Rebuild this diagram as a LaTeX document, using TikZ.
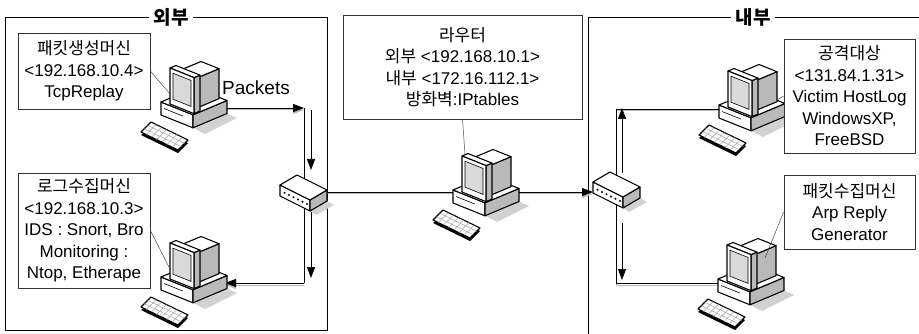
\documentclass[tikz,border=0pt]{standalone}
\usepackage{fontspec}
\setmainfont{Liberation Sans}
\newfontfamily\krfont{Noto Sans CJK KR}
\newcommand{\krtext}[1]{{\krfont #1}}
\usetikzlibrary{arrows.meta}

\tikzset{
  face/.style={fill=white, draw=black, line width=1.1pt, line join=round},
  side/.style={fill=gray!55, draw=black, line width=1.1pt, line join=round},
  keys/.style={draw=gray!70, line width=0.5pt},
  % desktop computer: origin at the front-left top corner of the case
  pics/computer/.style={code={
    % drop shadow
    \fill[gray!35] (32,25.8) -- (66,11.5) -- (76,16) -- (44,32) -- cycle;
    % case
    \draw[face] (0,0) -- (32,12.8) -- (32,25.8) -- (0,13) -- cycle;
    \draw[side] (32,12.8) -- (66,-1.5) -- (66,11.5) -- (32,25.8) -- cycle;
    \draw[face] (0,0) -- (32,12.8) -- (66,-1.5) -- (34,-14.3) -- cycle;
    \draw[line width=0.6pt] (3,6.5) -- (22,14.1);
    % CRT housing
    \draw[side] (36,-24.1) -- (58,-33.3) -- (58,-3.3) -- (36,5.9) -- cycle;
    \draw[face] (18,-31.3) -- (36,-24.1) -- (58,-33.3) -- (40,-40.5) -- cycle;
    % bezel
    \draw[side] (33,11.6) -- (39,9.1) -- (39,-26.9) -- (33,-24.4) -- cycle;
    \draw[face] (9,-34) -- (33,-24.4) -- (39,-26.9) -- (15,-36.5) -- cycle;
    \draw[face] (9,2) -- (33,11.6) -- (33,-24.4) -- (9,-34) -- cycle;
    \draw[fill=gray!30, draw=black, line width=0.6pt]
      (12,-2.8) -- (30,4.4) -- (30,-21.6) -- (12,-28.8) -- cycle;
    % keyboard
    \fill[black] (-10,23) -- (27,41) -- (17,51) -- (-20,33) -- cycle;
    \draw[face] (-10,20) -- (27,38) -- (17,48) -- (-20,30) -- cycle;
    \foreach \t in {0.33,0.67}
      \draw[keys] ({-10-10*\t},{20+10*\t}) -- ({27-10*\t},{38+10*\t});
    \foreach \k in {0.14,0.28,0.42,0.56,0.7,0.84}
      \draw[keys] ({-10+37*\k},{20+18*\k}) -- ({-20+37*\k},{30+18*\k});
    % attachment points
    \coordinate (-port) at (64,6);
    \coordinate (-west) at (1,4);
    \coordinate (-tag) at (9,-8);
    \coordinate (-top) at (12,-36);
    \coordinate (-side) at (47,-21);
    \coordinate (-sidelow) at (58,-5);
  }},
  % network hub: origin at the front-left top corner
  pics/hub/.style={code={
    \fill[gray!35] (30,26) -- (47,16) -- (54,20) -- (36,30) -- cycle;
    \draw[face] (0,0) -- (30,15) -- (30,26) -- (0,11) -- cycle;
    \draw[side] (30,15) -- (47,5) -- (47,16) -- (30,26) -- cycle;
    \draw[face] (0,0) -- (17,-10) -- (47,5) -- (30,15) -- cycle;
    \foreach \k in {0.15,0.3,0.45,0.6,0.75,0.9}
      \fill ({30*\k},{15*\k+5.5}) circle (1.1);
    \coordinate (-west) at (0,7);
    \coordinate (-east) at (47,7);
  }}
}

\begin{document}
\begin{tikzpicture}[x=1pt,y=-1pt,
  frame/.style={draw=black, line width=0.9pt},
  title/.style={fill=white, inner xsep=5pt, inner ysep=1pt,
    font=\fontsize{19}{19}\selectfont\krfont\bfseries},
  tagbox/.style={draw=black!80, line width=0.7pt, fill=white, align=center,
    inner sep=0pt, font=\fontsize{17}{21.5}\selectfont},
  link/.style={draw=black, line width=0.8pt,
    preaction={draw=gray!55, line width=1pt, transform canvas={yshift=-2pt}}},
  wire/.style={draw=black, line width=0.7pt},
  tip/.style={-{Triangle[length=11pt,width=8pt]}},
  leader/.style={draw=black!70, line width=0.5pt}]
\useasboundingbox (0,0) rectangle (919,334);

% zones
\draw[frame] (5,17) rectangle (327,330);
\draw[frame] (930,17) -- (588,17) -- (588,345);
\node[title] (outer) at (171,17) {외부};
\node[title] (inner) at (753,17) {내부};

% bus junctions and free arrows
\coordinate (lbus) at (304,200);
\coordinate (rbus) at (616,200);
\coordinate (la1s) at (311,110);
\coordinate (la1e) at (311,170);
\coordinate (la2s) at (311,212);
\coordinate (la2e) at (311,278);
\coordinate (ra1s) at (622,173);
\coordinate (ra1e) at (622,108);
\coordinate (ra2s) at (622,223);
\coordinate (ra2e) at (622,280);

% placements of equipment
\path (161,102) coordinate (genpos) (161,277) coordinate (logpos)
      (453,190) coordinate (rtrpos) (719,105) coordinate (vicpos)
      (718,279) coordinate (colpos) (280,185) coordinate (hublpos)
      (593,182) coordinate (hubrpos);

% invisible pass to register attachment points
\begin{scope}[opacity=0]
  \pic (gen) at (genpos) {computer};
  \pic (log) at (logpos) {computer};
  \pic (rtr) at (rtrpos) {computer};
  \pic (vic) at (vicpos) {computer};
  \pic (col) at (colpos) {computer};
  \pic (hubL) at (hublpos) {hub};
  \pic (hubR) at (hubrpos) {hub};
\end{scope}

% outer segment
\draw[link,tip] (gen-port) -- (gen-port -| lbus);
\draw[wire] (gen-port -| lbus) -- (log-port -| lbus);
\draw[link,tip] (log-port -| lbus) -- (log-port);
\draw[wire,tip] (la1s) -- (la1e);
\draw[wire,tip] (la2s) -- (la2e);

% uplink through the router
\draw[link,tip] (hubL-east) -- (hubL-east -| hubR-west);

% inner segment
\draw[link] (vic-west) -- (vic-west -| rbus) -- (col-west -| rbus) -- (col-west);
\draw[wire,tip] (ra1s) -- (ra1e);
\draw[wire,tip] (ra2s) -- (ra2e);

% equipment
\pic at (genpos) {computer};
\pic at (logpos) {computer};
\pic at (rtrpos) {computer};
\pic at (vicpos) {computer};
\pic at (colpos) {computer};
\pic at (hublpos) {hub};
\pic at (hubrpos) {hub};

\node[font=\fontsize{19}{19}\selectfont] (pk) at (256,88) {Packets};

% labels
\node[tagbox, minimum width=132pt, minimum height=76pt] (genbox) at (84,71)
  {\krtext{패킷생성머신}\\<192.168.10.4>\\TcpReplay};
\node[tagbox, minimum width=132pt, minimum height=115pt] (logbox) at (84,230.5)
  {\krtext{로그수집머신}\\<192.168.10.3>\\IDS : Snort, Bro\\Monitoring :\\Ntop, Etherape};
\node[tagbox, minimum width=239pt, minimum height=104pt] (rbox) at (462.5,67)
  {\krtext{라우터}\\\krtext{외부} <192.168.10.1>\\\krtext{내부} <172.16.112.1>\\\krtext{방화벽}:IPtables};
\node[tagbox, minimum width=131pt, minimum height=114pt] (vbox) at (849.5,96)
  {\krtext{공격대상}\\<131.84.1.31>\\Victim HostLog\\WindowsXP,\\FreeBSD};
\node[tagbox, minimum width=131pt, minimum height=74pt] (cbox) at (849.5,212)
  {\krtext{패킷수집머신}\\Arp Reply\\Generator};

\draw[leader] (genbox.east) -- (gen-tag);
\draw[leader] (logbox.east) -- (log-tag);
\draw[leader] (rbox.south) -- (rtr-top);
\draw[leader] (vbox.west) -- (vic-sidelow);
\draw[leader] (cbox.west) -- (col-side);
\end{tikzpicture}
\end{document}
